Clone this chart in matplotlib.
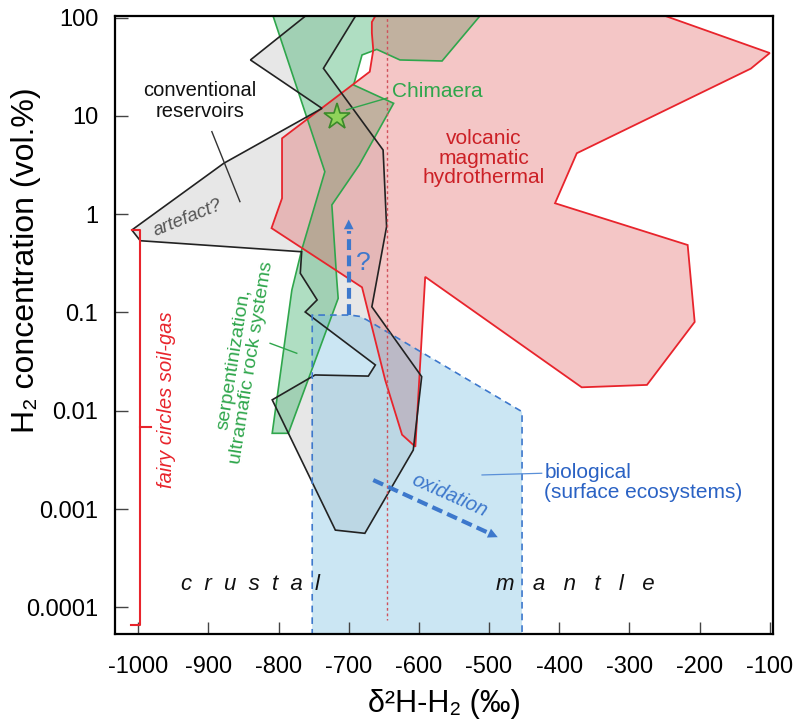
import numpy as np
import matplotlib.pyplot as plt
from matplotlib.ticker import FixedLocator, NullLocator

plt.rcParams['font.family'] = ['Liberation Sans', 'DejaVu Sans']

# data <<<
# volcanic / magmatic / hydrothermal field
volc_d2h = [-660, -667, -667, -665, -670, -795, -795, -810, -681, -648, -624, -605,
            -591, -368, -275, -207, -217, -406, -375, -127, -100, -259]
volc_h2 = [110, 90, 69.5, 46.7, 28.1, 5.9, 1.45, 0.72, 0.18, 0.0205, 0.0057, 0.0043,
           0.23, 0.0173, 0.0183, 0.080, 0.485, 1.29, 4.16, 30.2, 43.5, 110]

# serpentinization / ultramafic rock systems
serp_d2h = [-809, -510, -567, -627, -660, -681, -693, -636, -685, -724, -717, -715,
            -786, -809, -781, -767, -734]
serp_h2 = [110, 110, 36.1, 37.0, 47.4, 41.6, 20.6, 13.4, 3.16, 1.24, 0.214, 0.139,
           0.00589, 0.00589, 0.169, 0.432, 2.70]

# conventional reservoirs (crustal)
conv_d2h = [-757, -840, -738, -878, -1009, -997, -767, -769, -745, -762, -662, -672,
            -748, -809, -719, -677, -608, -596, -667, -646, -651, -736, -688]
conv_h2 = [110, 37.0, 11.9, 3.29, 0.689, 0.536, 0.414, 0.25, 0.134, 0.101, 0.0292, 0.0225,
           0.0231, 0.0129, 0.00061, 0.000566, 0.00398, 0.0222, 0.114, 0.745, 4.49, 30.4, 110]

# biological (surface ecosystems)
bio_d2h = [-752, -752, -698, -684, -674, -453, -453]
bio_h2 = [1e-5, 0.094, 0.094, 0.091, 0.0838, 0.00977, 1e-5]

# fairy circles soil-gas range
fairy_d2h = [-1009, -997, -997, -1010]
fairy_h2 = [0.689, 0.689, 6.6e-5, 6.6e-5]
fairy_mid = 0.0069

# Chimaera
chim_d2h = -717
chim_h2 = 9.8

# crustal / mantle boundary
mantle_d2h = -646

# arrows (start, end)
q_arrow = [(-700, 0.094), (-700, 0.94)]
ox_arrow = [(-665, 0.00197), (-484, 0.000503)]

xticks = list(range(-1000, 0, 100))
yticks = [100, 10, 1, 0.1, 0.01, 0.001, 0.0001]
ytick_labels = ["100", "10", "1", "0.1", "0.01", "0.001", "0.0001"]
# >>>

red = "#e8242c"
green = "#2fa64c"
blue = "#3d78cc"

fig = plt.figure(figsize=(7.97, 7.19), dpi=100)
ax = fig.add_axes([0.1443, 0.1182, 0.8255, 0.8595])
ax.set_yscale("log")

# fields <<<
ax.fill(conv_d2h, conv_h2, facecolor=(0.62, 0.62, 0.62, 0.24), edgecolor="none", zorder=1)
ax.fill(serp_d2h, serp_h2, facecolor=(66/255, 177/255, 111/255, 0.42), edgecolor="none", zorder=1.1)
ax.fill(volc_d2h, volc_h2, facecolor=(226/255, 98/255, 98/255, 0.36), edgecolor="none", zorder=1.2)
ax.fill(bio_d2h, bio_h2, facecolor=(120/255, 190/255, 225/255, 0.38), edgecolor="none", zorder=1.3)

ax.fill(serp_d2h, serp_h2, facecolor="none", edgecolor=green, lw=1.2, zorder=2)
ax.fill(volc_d2h, volc_h2, facecolor="none", edgecolor=red, lw=1.3, zorder=2.1)
ax.fill(conv_d2h, conv_h2, facecolor="none", edgecolor="#222222", lw=1.2, zorder=2.2)
ax.fill(bio_d2h, bio_h2, facecolor="none", edgecolor=blue, lw=1.2, ls=(0, (4, 3)), zorder=2.3)
# >>>

# crustal / mantle line
ax.plot([mantle_d2h, mantle_d2h], [110, 7.4e-5], color="#d0505a", lw=1.0, ls=(0, (2, 2)), zorder=2.4)

# fairy circles bracket
ax.plot(fairy_d2h, fairy_h2, color=red, lw=1.5, zorder=3)
ax.plot([fairy_d2h[1], -981], [fairy_mid, fairy_mid], color=red, lw=1.5, zorder=3)
ax.text(-959, 0.0128, "fairy circles soil-gas", color=red, fontsize=14.5, style="italic",
        rotation=90, ha="center", va="center")

# arrows
(qx0, qy0), (qx1, qy1) = q_arrow
ax.plot([qx0, qx1], [qy0, qy1 * 0.72], color=blue, lw=3, ls=(0, (2.6, 1.3)), zorder=4)
ax.annotate("", xy=(qx1, qy1), xytext=(qx1, qy1 * 0.7),
            arrowprops=dict(arrowstyle="-|>,head_length=0.7,head_width=0.35", color=blue, lw=0),
            zorder=4)
ax.text(-679, 0.315, "?", color=blue, fontsize=19, ha="center", va="center")

(ox0, oy0), (ox1, oy1) = ox_arrow
ax.plot([ox0, -502], [oy0, 0.000577], color=blue, lw=3, ls=(0, (2.6, 1.3)), zorder=4)
ax.annotate("", xy=(ox1, oy1), xytext=(-504, 0.000585),
            arrowprops=dict(arrowstyle="-|>,head_length=0.7,head_width=0.35", color=blue, lw=0),
            zorder=4)
ax.text(-556, 0.00139, "oxidation", color=blue, fontsize=14.5, style="italic",
        rotation=-24, ha="center", va="center", rotation_mode="anchor")

# Chimaera
ax.plot([chim_d2h], [chim_h2], marker="*", ms=20, mfc="#8fd35a", mec="#3a8a2a", mew=1.2, zorder=5)
ax.plot([-703, -646], [11.5, 15.1], color=green, lw=1.0, zorder=5)
ax.text(-639, 17.5, "Chimaera", color=green, fontsize=15, ha="left", va="center")

# labels
ax.text(-912, 14.2, "conventional\nreservoirs", color="#111111", fontsize=14.5,
        ha="center", va="center", linespacing=1.1)
ax.plot([-895, -855], [6.9, 1.34], color="#333333", lw=1.0, zorder=5)
ax.text(-929, 0.91, "artefact?", color="#555555", fontsize=13.5, style="italic",
        rotation=22, ha="center", va="center", rotation_mode="anchor")
ax.text(-508, 3.72, "volcanic\nmagmatic\nhydrothermal", color="#cc2026", fontsize=15,
        ha="center", va="center", linespacing=1.05)
ax.text(-851, 0.032, "serpentinization,\nultramafic rock systems", color=green, fontsize=14,
        rotation=81, ha="center", va="center", multialignment="center",
        rotation_mode="anchor", linespacing=1.05)
ax.plot([-812, -774], [0.0485, 0.0384], color=green, lw=1.0, zorder=5)
ax.text(-421, 0.00186, "biological\n(surface ecosystems)", color="#2a62c4", fontsize=15,
        ha="left", va="center", multialignment="left", linespacing=1.1)
ax.plot([-510, -425], [0.00222, 0.00231], color="#5a90d8", lw=0.9, zorder=5)
ax.text(-840, 1.69e-4, "c  r  u  s  t  a  l", color="#111111", fontsize=16, style="italic",
        ha="center", va="center")
ax.text(-377, 1.69e-4, "m   a   n   t   l   e", color="#111111", fontsize=16, style="italic",
        ha="center", va="center")

# axes <<<
ax.set_xlim(-1033, -95.5)
ax.set_ylim(5.35e-5, 103.5)
ax.xaxis.set_major_locator(FixedLocator(xticks))
ax.set_xticklabels([str(t) for t in xticks])
ax.yaxis.set_major_locator(FixedLocator(yticks))
ax.yaxis.set_minor_locator(NullLocator())
ax.set_yticklabels(ytick_labels)
ax.tick_params(axis="both", direction="in", length=9, width=1.0, color="#444444",
               labelsize=17, pad=12)
ax.tick_params(axis="x", pad=16)
for s in ax.spines.values():
    s.set_linewidth(1.6)
    s.set_zorder(6)
ax.set_xlabel("δ²H-H₂ (‰)", fontsize=22, labelpad=8)
ax.set_ylabel("H₂ concentration (vol.%)", fontsize=23, labelpad=6)
ax.yaxis.set_label_coords(-0.112, 0.605)
# >>>

fig.savefig("out.png", dpi=100)
